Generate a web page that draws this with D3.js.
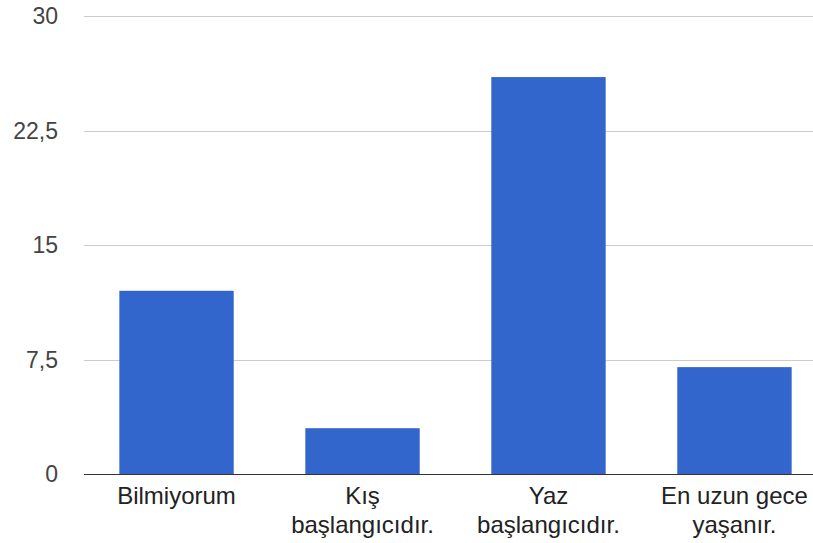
<!DOCTYPE html>
<html><head><meta charset="utf-8">
<script src="https://cdn.jsdelivr.net/npm/d3@7"></script>
<style>body{margin:0;background:#fff}svg{display:block}text{font-family:Arial,"Liberation Sans",sans-serif}</style>
</head><body>
<svg id="c" width="813" height="543"></svg>
<script>
const categories = [["Bilmiyorum"], ["Kış", "başlangıcıdır."], ["Yaz", "başlangıcıdır."], ["En uzun gece", "yaşanır."]];
const values = [12, 3, 26, 7];
const yTicks = [0, 7.5, 15, 22.5, 30];
const yTickLabels = ["0", "7,5", "15", "22,5", "30"];

(function() {
const svg = d3.select("#c");
const pLeft = 84, pRight = 813, pTop = 16, pBottom = 474;
const x = d3.scaleBand().domain(d3.range(categories.length)).range([84, 827]).paddingInner(0.385).paddingOuter(0.19);
const y = d3.scaleLinear().domain([0, 30]).range([pBottom, pTop]);

svg.append("g").selectAll("line").data(yTicks.filter(d => d > 0)).join("line")
  .attr("x1", pLeft).attr("x2", pRight).attr("y1", d => Math.round(y(d)) + 0.5).attr("y2", d => Math.round(y(d)) + 0.5)
  .attr("stroke", "#cccccc").attr("stroke-width", 1);

svg.append("g").selectAll("text").data(yTicks).join("text")
  .attr("x", 58).attr("y", d => y(d)).attr("dy", "0.36em").attr("text-anchor", "end")
  .attr("font-size", 23).attr("fill", "#444").text((d, i) => yTickLabels[i]);

svg.append("g").selectAll("rect").data(values).join("rect")
  .attr("x", (d, i) => x(i)).attr("width", x.bandwidth())
  .attr("y", d => y(d)).attr("height", d => y(0) - y(d))
  .attr("fill", "#3366cc");

svg.append("line").attr("x1", pLeft).attr("x2", pRight).attr("y1", pBottom + 0.5).attr("y2", pBottom + 0.5)
  .attr("stroke", "#333").attr("stroke-width", 1);

const lab = svg.append("g").selectAll("text").data(categories).join("text")
  .attr("text-anchor", "middle").attr("font-size", 24).attr("fill", "#222");
lab.each(function(lines, i) {
  const t = d3.select(this);
  lines.forEach((l, j) => t.append("tspan").attr("x", x(i) + x.bandwidth() / 2).attr("y", 504 + j * 29).text(l));
});
})();
</script>
</body></html>
